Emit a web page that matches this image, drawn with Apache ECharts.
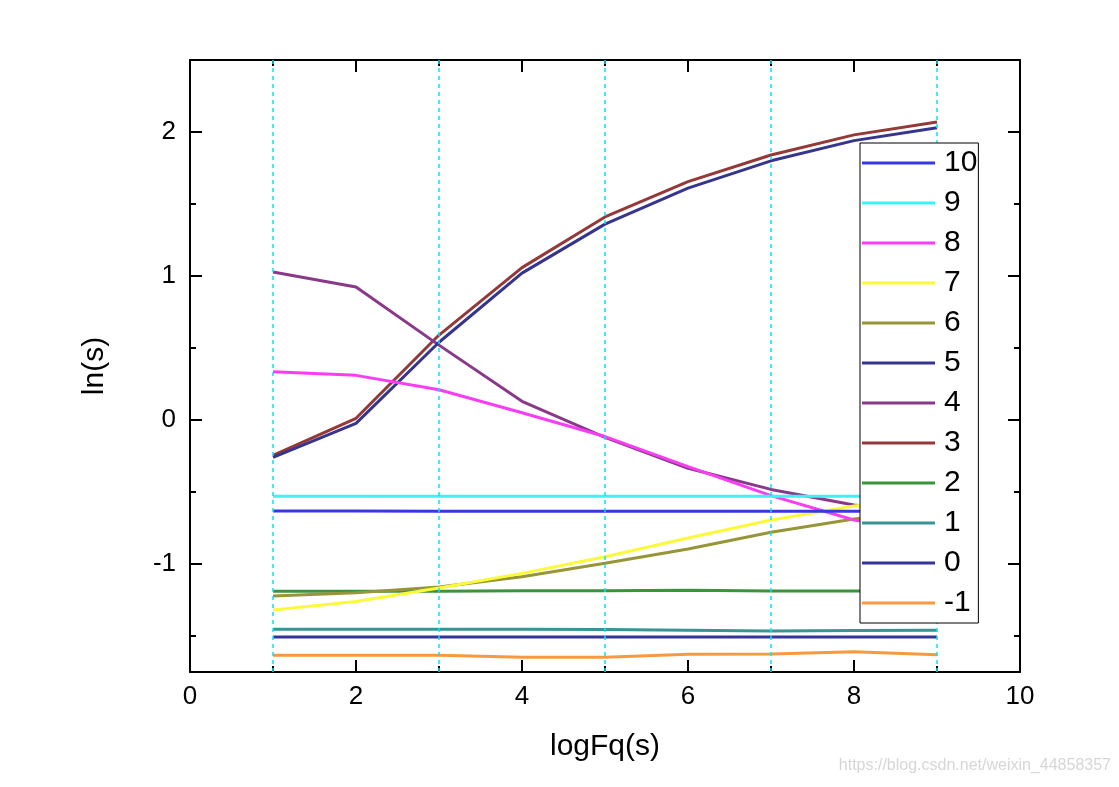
<!DOCTYPE html>
<html>
<head>
<meta charset="utf-8">
<script src="https://cdn.jsdelivr.net/npm/echarts@6/dist/echarts.min.js"></script>
<style>
html,body{margin:0;padding:0;background:#fff;}
#chart{width:1119px;height:787px;}
</style>
</head>
<body>
<div id="chart"></div>
<script>
// ---- data ----
const xs = [1, 2, 3, 4, 5, 6, 7, 8, 9];
const seriesNames = ['10', '9', '8', '7', '6', '5', '4', '3', '2', '1', '0', '-1'];
const s10 = [-0.632, -0.632, -0.634, -0.634, -0.634, -0.634, -0.634, -0.634, -0.634];
const s9 = [-0.53, -0.53, -0.53, -0.53, -0.53, -0.53, -0.53, -0.53, -0.53];
const s8 = [0.335, 0.31, 0.21, 0.05, -0.115, -0.324, -0.525, -0.694, -0.78];
const s7 = [-1.319, -1.26, -1.167, -1.065, -0.95, -0.82, -0.694, -0.597, -0.54];
const s6 = [-1.222, -1.20, -1.16, -1.088, -0.995, -0.896, -0.78, -0.688, -0.62];
const s5 = [-0.26, -0.023, 0.54, 1.02, 1.36, 1.61, 1.80, 1.94, 2.03];
const s4 = [1.028, 0.924, 0.52, 0.13, -0.12, -0.335, -0.482, -0.59, -0.66];
const s3 = [-0.245, 0.012, 0.59, 1.058, 1.41, 1.655, 1.84, 1.98, 2.07];
const s2 = [-1.19, -1.19, -1.19, -1.186, -1.186, -1.183, -1.188, -1.188, -1.188];
const s1 = [-1.453, -1.453, -1.453, -1.453, -1.455, -1.46, -1.465, -1.462, -1.46];
const s0 = [-1.507, -1.507, -1.507, -1.507, -1.507, -1.507, -1.507, -1.507, -1.507];
const sm1 = [-1.634, -1.634, -1.634, -1.648, -1.648, -1.626, -1.625, -1.61, -1.63];
const seriesValues = [s10, s9, s8, s7, s6, s5, s4, s3, s2, s1, s0, sm1];
const seriesColors = ['#3838e0', '#3ef2f2', '#fb3cf5', '#fafa3a', '#969638', '#35358f',
                      '#8a398a', '#943838', '#3b933b', '#399494', '#34349a', '#f7993f'];
const xTicksMin = 0, xTicksMax = 10, xTickStep = 2;
const xGridLines = [1, 3, 5, 7, 9];
const yMajorTicks = [-1, 0, 1, 2];
const yMinorTicks = [-1.5, -0.5, 0.5, 1.5];
const yMin = -1.75, yMax = 2.5;
const xTitle = 'logFq(s)';
const yTitle = 'ln(s)';
const watermark = 'https://blog.csdn.net/weixin_44858357';

// ---- chart ----
const chart = echarts.init(document.getElementById('chart'), null, {renderer: 'canvas'});
const font = 'Arial, "Liberation Sans", sans-serif';
const black = '#000';
const gridCyan = '#00e6ff';

const series = [];
// grid lines series (cyan dashed verticals)
series.push({
  name: '__grid', type: 'line', data: [], silent: true, z: 1,
  markLine: {
    silent: true, symbol: ['none', 'none'], animation: false,
    label: {show: false},
    emphasis: {disabled: true},
    lineStyle: {color: gridCyan, width: 1.5, type: [4, 4], opacity: 1},
    data: xGridLines.map(v => ({xAxis: v, lineStyle: {color: gridCyan, width: 1.5, type: [4, 4]}}))
  }
});
for (let k = seriesNames.length - 1; k >= 0; k--) {
  series.push({
    name: seriesNames[k],
    type: 'line',
    data: xs.map((x, i) => [x, seriesValues[k][i]]),
    showSymbol: false,
    symbol: 'none',
    lineStyle: {color: seriesColors[k], width: 3},
    itemStyle: {color: seriesColors[k]},
    xAxisIndex: 0,
    yAxisIndex: 0,
    z: 3,
    animation: false
  });
}

const baseY = {
  type: 'value', min: yMin, max: yMax, gridIndex: 0,
  splitLine: {show: false}, minorSplitLine: {show: false}
};

const option = {
  backgroundColor: '#fff',
  animation: false,
  textStyle: {fontFamily: font},
  grid: {left: 190, right: 99, top: 60, bottom: 115, containLabel: false},
  legend: {
    orient: 'vertical',
    left: 860, top: 143,
    data: seriesNames,
    icon: 'rect',
    itemWidth: 73, itemHeight: 3,
    itemGap: 10,
    padding: [5, 1, 5, 2],
    backgroundColor: '#fff',
    borderColor: '#000', borderWidth: 1,
    borderRadius: 0,
    z: 20,
    selectedMode: false,
    textStyle: {fontSize: 30, color: '#000', fontFamily: font, padding: [0, 0, 0, 4], lineHeight: 30}
  },
  xAxis: [
    {
      type: 'value', min: xTicksMin, max: xTicksMax, interval: xTickStep,
      position: 'bottom',
      name: xTitle, nameLocation: 'middle', nameGap: 60,
      nameTextStyle: {fontSize: 30, color: black, fontFamily: font},
      axisLine: {show: true, onZero: false, lineStyle: {color: black, width: 2}},
      axisTick: {show: true, inside: true, length: 12, lineStyle: {color: black, width: 2}},
      minorTick: {show: true, splitNumber: 2, length: 6, lineStyle: {color: black, width: 2}},
      axisLabel: {fontSize: 26, color: black, margin: 12, fontFamily: font},
      splitLine: {show: false},
      minorSplitLine: {show: false}
    },
    {
      type: 'value', min: xTicksMin, max: xTicksMax, interval: xTickStep,
      position: 'top',
      axisLine: {show: true, onZero: false, lineStyle: {color: black, width: 2}},
      axisTick: {show: true, inside: true, length: 12, lineStyle: {color: black, width: 2}},
      minorTick: {show: true, splitNumber: 2, length: 6, lineStyle: {color: black, width: 2}},
      axisLabel: {show: false},
      splitLine: {show: false},
      minorSplitLine: {show: false}
    }
  ],
  yAxis: [
    Object.assign({}, baseY, {
      position: 'left',
      name: yTitle, nameLocation: 'middle', nameGap: 80, nameRotate: 90,
      nameTextStyle: {fontSize: 30, color: black, fontFamily: font},
      axisLine: {show: true, onZero: false, lineStyle: {color: black, width: 2}},
      axisTick: {show: true, inside: true, length: 12, customValues: yMajorTicks, lineStyle: {color: black, width: 2}},
      axisLabel: {fontSize: 26, color: black, margin: 14, customValues: yMajorTicks, fontFamily: font}
    }),
    Object.assign({}, baseY, {
      position: 'left',
      axisLine: {show: false, onZero: false},
      axisTick: {show: true, inside: true, length: 6, customValues: yMinorTicks, lineStyle: {color: black, width: 2}},
      axisLabel: {show: false}
    }),
    Object.assign({}, baseY, {
      position: 'right',
      axisLine: {show: true, onZero: false, lineStyle: {color: black, width: 2}},
      axisTick: {show: true, inside: true, length: 12, customValues: yMajorTicks, lineStyle: {color: black, width: 2}},
      axisLabel: {show: false}
    }),
    Object.assign({}, baseY, {
      position: 'right',
      axisLine: {show: false, onZero: false},
      axisTick: {show: true, inside: true, length: 6, customValues: yMinorTicks, lineStyle: {color: black, width: 2}},
      axisLabel: {show: false}
    })
  ],
  graphic: [{
    type: 'text', right: 8, top: 758,
    style: {text: watermark, fontSize: 16, fill: '#d6d6d6', fontFamily: font}
  }],
  series: series
};
chart.setOption(option);
</script>
</body>
</html>
